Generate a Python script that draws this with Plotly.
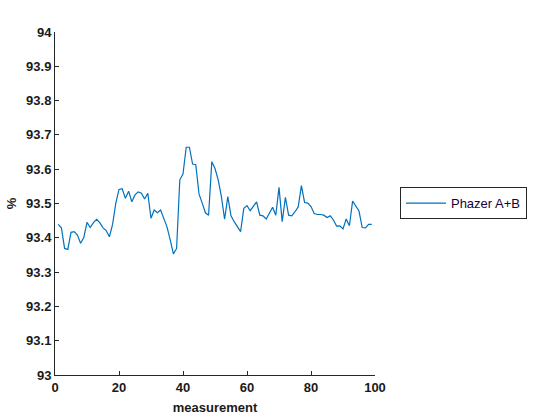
import plotly.graph_objects as go

measurement = list(range(1, 100))
phazer_ab = [
    93.439, 93.429, 93.369, 93.366, 93.416, 93.418, 93.408, 93.384, 93.401, 93.445,
    93.430, 93.444, 93.454, 93.444, 93.429, 93.421, 93.403, 93.439, 93.501, 93.541,
    93.543, 93.515, 93.536, 93.505, 93.525, 93.534, 93.530, 93.513, 93.530, 93.457,
    93.481, 93.473, 93.481, 93.454, 93.432, 93.394, 93.353, 93.369, 93.569, 93.586,
    93.664, 93.664, 93.615, 93.613, 93.528, 93.501, 93.473, 93.466, 93.622, 93.602,
    93.569, 93.520, 93.454, 93.520, 93.464, 93.447, 93.434, 93.418, 93.486, 93.494,
    93.479, 93.493, 93.505, 93.466, 93.464, 93.455, 93.474, 93.489, 93.466, 93.547,
    93.447, 93.518, 93.466, 93.464, 93.476, 93.490, 93.552, 93.503, 93.501, 93.491,
    93.471, 93.468, 93.468, 93.466, 93.459, 93.464, 93.452, 93.434, 93.435, 93.426,
    93.455, 93.435, 93.507, 93.493, 93.478, 93.430, 93.429, 93.439, 93.439,
]
x_ticks = [0, 20, 40, 60, 80, 100]
y_ticks = [93, 93.1, 93.2, 93.3, 93.4, 93.5, 93.6, 93.7, 93.8, 93.9, 94]
y_tick_text = ["93", "93.1", "93.2", "93.3", "93.4", "93.5", "93.6", "93.7", "93.8", "93.9", "94"]

fig = go.Figure()
fig.add_trace(go.Scatter(
    x=measurement, y=phazer_ab, mode="lines", name="Phazer A+B",
    line=dict(color="#0072BD", width=1.2),
))

bold_font = dict(family="Liberation Sans Narrow, Arial", size=13, color="#1a1a1a", weight="bold")
fig.update_layout(
    width=560, height=420,
    margin=dict(l=55, r=185, t=32, b=45),
    paper_bgcolor="white", plot_bgcolor="white",
    showlegend=True,
    legend=dict(
        x=1.078, y=0.501, xanchor="left", yanchor="middle",
        bordercolor="#262626", borderwidth=1, bgcolor="white",
        itemwidth=40,
        font=dict(family="Arial", size=13, color="#1a0033"),
    ),
    xaxis=dict(
        range=[0, 100], tickvals=x_ticks, automargin=False,
        showline=True, linecolor="#262626", linewidth=1,
        ticks="inside", ticklen=4, tickcolor="#262626",
        showgrid=False, zeroline=False,
        tickfont=bold_font,
        title=dict(text="<b>measurement</b>", font=dict(family="Liberation Sans Narrow, Arial", size=13, color="#1a1a1a"), standoff=9),
    ),
    yaxis=dict(
        range=[93, 94], tickvals=y_ticks, ticktext=y_tick_text, automargin=False,
        showline=True, linecolor="#262626", linewidth=1,
        ticks="inside", ticklen=4, tickcolor="#262626",
        showgrid=False, zeroline=False,
        tickfont=bold_font,
        title=dict(text="<b>%</b>", font=dict(family="Liberation Sans Narrow, Arial", size=13, color="#1a1a1a"), standoff=6),
    ),
)

fig.write_html("out.html")
